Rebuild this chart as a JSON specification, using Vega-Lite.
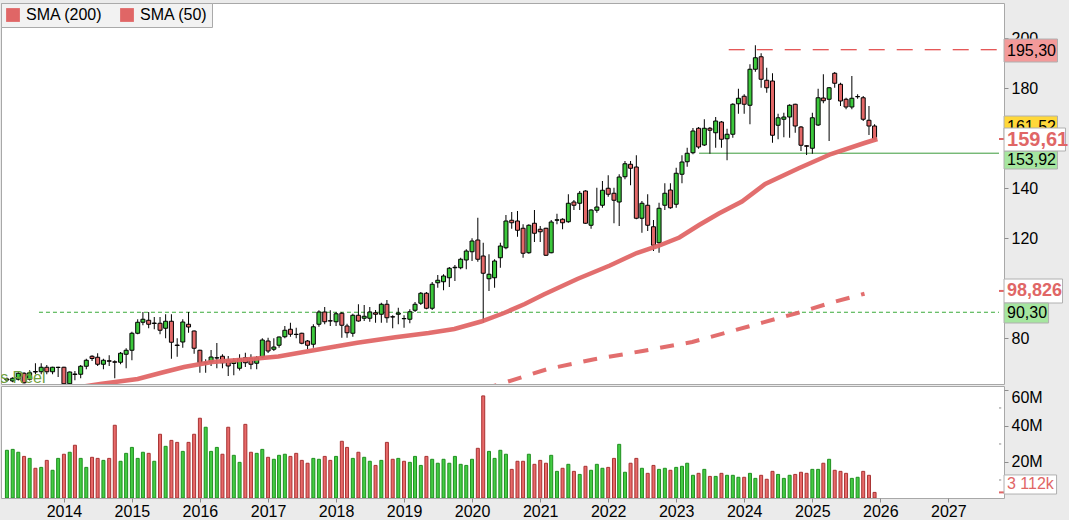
{
"$schema":"https://vega.github.io/schema/vega-lite/v6.json",
"background":"#ebebeb",
"padding":{"left":0,"top":2,"right":0,"bottom":0},
"spacing":0,
"config":{"view":{"fill":"white","stroke":"#a8a8a8","strokeWidth":1},"font":"Liberation Sans","axis":{"labelFont":"Liberation Sans","labelFontSize":16,"labelColor":"#000000","tickColor":"#8c8c8c","tickSize":4,"domain":false,"grid":false,"labelPadding":3}},
"datasets":{
"k":[
{"d":"2013-03-01","o":63.2,"h":64.2,"l":62.5,"c":63.6,"v":26.5},
{"d":"2013-04-01","o":62.8,"h":64.3,"l":62.3,"c":63.9,"v":27.0},
{"d":"2013-05-01","o":63.5,"h":66.3,"l":63.0,"c":65.9,"v":25.4},
{"d":"2013-06-01","o":65.9,"h":66.3,"l":61.8,"c":62.1,"v":23.1},
{"d":"2013-07-01","o":63.5,"h":67.1,"l":63.0,"c":66.1,"v":22.0},
{"d":"2013-08-01","o":66.6,"h":69.9,"l":65.5,"c":66.4,"v":16.5},
{"d":"2013-09-01","o":66.5,"h":69.9,"l":65.5,"c":68.3,"v":17.0},
{"d":"2013-10-01","o":68.3,"h":69.2,"l":65.5,"c":66.5,"v":20.9},
{"d":"2013-11-01","o":66.5,"h":68.5,"l":65.5,"c":68.3,"v":15.4},
{"d":"2013-12-01","o":68.2,"h":68.5,"l":64.4,"c":68.3,"v":22.0},
{"d":"2014-01-01","o":68.3,"h":68.5,"l":61.6,"c":61.7,"v":24.3},
{"d":"2014-02-01","o":61.7,"h":66.6,"l":61.6,"c":66.4,"v":25.4},
{"d":"2014-03-01","o":65.6,"h":66.8,"l":63.1,"c":65.4,"v":29.3},
{"d":"2014-04-01","o":65.5,"h":69.2,"l":63.9,"c":68.7,"v":22.0},
{"d":"2014-05-01","o":68.7,"h":71.7,"l":67.5,"c":71.1,"v":17.0},
{"d":"2014-06-01","o":72.7,"h":73.1,"l":70.8,"c":71.8,"v":22.6},
{"d":"2014-07-01","o":72.3,"h":73.9,"l":68.8,"c":69.5,"v":22.0},
{"d":"2014-08-01","o":69.5,"h":71.7,"l":67.5,"c":71.1,"v":20.9},
{"d":"2014-09-01","o":70.9,"h":73.1,"l":68.8,"c":70.7,"v":22.0},
{"d":"2014-10-01","o":70.5,"h":71.1,"l":63.9,"c":70.3,"v":40.4},
{"d":"2014-11-01","o":70.3,"h":74.4,"l":69.5,"c":73.9,"v":20.4},
{"d":"2014-12-01","o":73.5,"h":75.9,"l":67.9,"c":75.1,"v":24.8},
{"d":"2015-01-01","o":75.1,"h":82.5,"l":71.1,"c":81.9,"v":28.1},
{"d":"2015-02-01","o":81.9,"h":87.5,"l":81.5,"c":86.3,"v":22.0},
{"d":"2015-03-01","o":86.3,"h":90.4,"l":85.1,"c":87.5,"v":25.4},
{"d":"2015-04-01","o":87.1,"h":90.4,"l":83.9,"c":85.5,"v":24.8},
{"d":"2015-05-01","o":85.8,"h":88.4,"l":83.5,"c":86.0,"v":20.4},
{"d":"2015-06-01","o":85.9,"h":88.4,"l":81.5,"c":83.1,"v":35.4},
{"d":"2015-07-01","o":83.9,"h":89.5,"l":79.9,"c":86.7,"v":28.7},
{"d":"2015-08-01","o":86.7,"h":89.5,"l":71.7,"c":78.3,"v":32.0},
{"d":"2015-09-01","o":77.2,"h":79.9,"l":72.5,"c":77.0,"v":30.9},
{"d":"2015-10-01","o":78.4,"h":87.5,"l":76.1,"c":86.4,"v":25.9},
{"d":"2015-11-01","o":85.5,"h":90.4,"l":82.1,"c":84.4,"v":30.9},
{"d":"2015-12-01","o":82.8,"h":83.0,"l":73.7,"c":75.9,"v":35.4},
{"d":"2016-01-01","o":75.1,"h":75.3,"l":66.1,"c":70.1,"v":44.3},
{"d":"2016-02-01","o":70.0,"h":71.5,"l":66.1,"c":70.2,"v":39.3},
{"d":"2016-03-01","o":70.4,"h":75.2,"l":68.8,"c":72.4,"v":25.9},
{"d":"2016-04-01","o":72.0,"h":78.0,"l":67.9,"c":72.1,"v":28.1},
{"d":"2016-05-01","o":72.7,"h":73.5,"l":67.9,"c":70.1,"v":24.3},
{"d":"2016-06-01","o":71.1,"h":72.8,"l":64.8,"c":68.8,"v":39.3},
{"d":"2016-07-01","o":69.8,"h":71.9,"l":65.1,"c":70.8,"v":23.7},
{"d":"2016-08-01","o":67.9,"h":73.5,"l":67.0,"c":71.7,"v":19.8},
{"d":"2016-09-01","o":72.1,"h":74.1,"l":68.4,"c":70.1,"v":40.9},
{"d":"2016-10-01","o":71.9,"h":73.5,"l":67.5,"c":69.5,"v":25.4},
{"d":"2016-11-01","o":69.9,"h":72.8,"l":67.5,"c":72.1,"v":24.8},
{"d":"2016-12-01","o":72.4,"h":79.9,"l":71.9,"c":79.2,"v":27.0},
{"d":"2017-01-01","o":78.8,"h":80.1,"l":74.0,"c":74.8,"v":22.6},
{"d":"2017-02-01","o":75.5,"h":79.9,"l":74.8,"c":76.4,"v":21.5},
{"d":"2017-03-01","o":77.1,"h":80.6,"l":76.1,"c":80.4,"v":23.7},
{"d":"2017-04-01","o":80.5,"h":84.8,"l":79.9,"c":83.1,"v":24.3},
{"d":"2017-05-01","o":83.5,"h":86.1,"l":80.5,"c":81.5,"v":23.1},
{"d":"2017-06-01","o":81.5,"h":84.1,"l":79.9,"c":81.4,"v":24.8},
{"d":"2017-07-01","o":81.9,"h":82.1,"l":77.5,"c":77.9,"v":20.9},
{"d":"2017-08-01","o":78.8,"h":79.2,"l":75.5,"c":77.1,"v":19.3},
{"d":"2017-09-01","o":77.5,"h":85.5,"l":76.1,"c":84.5,"v":22.0},
{"d":"2017-10-01","o":85.5,"h":91.1,"l":84.5,"c":90.4,"v":21.5},
{"d":"2017-11-01","o":90.4,"h":92.4,"l":85.5,"c":86.5,"v":23.1},
{"d":"2017-12-01","o":86.9,"h":91.1,"l":84.8,"c":86.8,"v":20.9},
{"d":"2018-01-01","o":86.5,"h":90.4,"l":84.8,"c":89.7,"v":23.1},
{"d":"2018-02-01","o":89.9,"h":90.4,"l":80.1,"c":85.1,"v":31.5},
{"d":"2018-03-01","o":84.8,"h":85.7,"l":80.1,"c":82.1,"v":28.1},
{"d":"2018-04-01","o":81.9,"h":89.7,"l":80.5,"c":89.1,"v":22.0},
{"d":"2018-05-01","o":89.1,"h":93.5,"l":86.5,"c":86.8,"v":25.4},
{"d":"2018-06-01","o":87.9,"h":93.2,"l":86.8,"c":88.7,"v":22.6},
{"d":"2018-07-01","o":87.9,"h":92.4,"l":86.5,"c":90.4,"v":20.4},
{"d":"2018-08-01","o":90.1,"h":91.2,"l":86.1,"c":89.5,"v":18.1},
{"d":"2018-09-01","o":89.5,"h":94.1,"l":86.1,"c":93.5,"v":20.9},
{"d":"2018-10-01","o":93.5,"h":95.2,"l":86.1,"c":88.1,"v":30.9},
{"d":"2018-11-01","o":88.5,"h":89.1,"l":83.9,"c":88.4,"v":21.5},
{"d":"2018-12-01","o":89.5,"h":92.1,"l":85.5,"c":90.0,"v":22.0},
{"d":"2019-01-01","o":87.8,"h":89.1,"l":84.1,"c":87.7,"v":20.4},
{"d":"2019-02-01","o":87.5,"h":91.5,"l":85.9,"c":90.5,"v":19.8},
{"d":"2019-03-01","o":91.1,"h":94.4,"l":90.4,"c":93.5,"v":23.1},
{"d":"2019-04-01","o":93.9,"h":98.4,"l":93.2,"c":97.9,"v":18.1},
{"d":"2019-05-01","o":97.9,"h":98.4,"l":91.5,"c":91.9,"v":23.1},
{"d":"2019-06-01","o":91.9,"h":102.4,"l":91.2,"c":101.5,"v":21.5},
{"d":"2019-07-01","o":102.1,"h":105.2,"l":100.1,"c":103.1,"v":19.3},
{"d":"2019-08-01","o":102.5,"h":105.5,"l":99.1,"c":104.8,"v":21.5},
{"d":"2019-09-01","o":104.1,"h":108.4,"l":100.4,"c":107.9,"v":19.3},
{"d":"2019-10-01","o":108.1,"h":109.2,"l":102.8,"c":108.3,"v":23.1},
{"d":"2019-11-01","o":108.1,"h":112.1,"l":107.5,"c":111.5,"v":18.7},
{"d":"2019-12-01","o":111.2,"h":115.5,"l":107.5,"c":114.8,"v":18.1},
{"d":"2020-01-01","o":114.5,"h":119.9,"l":110.8,"c":118.8,"v":21.5},
{"d":"2020-02-01","o":119.2,"h":128.1,"l":110.5,"c":111.5,"v":27.6},
{"d":"2020-03-01","o":112.8,"h":118.1,"l":86.1,"c":105.9,"v":56.7},
{"d":"2020-04-01","o":103.7,"h":113.5,"l":98.8,"c":105.5,"v":25.9},
{"d":"2020-05-01","o":104.1,"h":111.5,"l":100.1,"c":110.8,"v":22.0},
{"d":"2020-06-01","o":112.1,"h":118.1,"l":108.1,"c":116.8,"v":26.5},
{"d":"2020-07-01","o":116.1,"h":129.2,"l":115.5,"c":126.8,"v":24.3},
{"d":"2020-08-01","o":127.1,"h":130.4,"l":123.7,"c":126.1,"v":15.9},
{"d":"2020-09-01","o":126.8,"h":130.8,"l":120.5,"c":123.1,"v":20.4},
{"d":"2020-10-01","o":123.9,"h":125.5,"l":112.1,"c":113.9,"v":20.4},
{"d":"2020-11-01","o":114.1,"h":125.5,"l":113.7,"c":125.1,"v":24.3},
{"d":"2020-12-01","o":125.9,"h":131.2,"l":118.4,"c":121.9,"v":18.7},
{"d":"2021-01-01","o":123.5,"h":124.8,"l":118.4,"c":122.5,"v":20.9},
{"d":"2021-02-01","o":123.9,"h":124.1,"l":112.8,"c":113.1,"v":19.3},
{"d":"2021-03-01","o":114.1,"h":127.2,"l":113.9,"c":126.4,"v":23.7},
{"d":"2021-04-01","o":127.1,"h":129.7,"l":125.5,"c":127.3,"v":14.8},
{"d":"2021-05-01","o":127.5,"h":127.9,"l":123.5,"c":126.1,"v":16.5},
{"d":"2021-06-01","o":126.5,"h":137.5,"l":126.1,"c":133.9,"v":18.7},
{"d":"2021-07-01","o":134.4,"h":135.2,"l":131.2,"c":133.1,"v":14.8},
{"d":"2021-08-01","o":133.9,"h":138.8,"l":131.2,"c":137.9,"v":13.1},
{"d":"2021-09-01","o":138.8,"h":139.1,"l":125.7,"c":125.9,"v":17.6},
{"d":"2021-10-01","o":125.1,"h":131.5,"l":123.7,"c":131.2,"v":15.4},
{"d":"2021-11-01","o":131.1,"h":140.1,"l":130.1,"c":132.4,"v":18.7},
{"d":"2021-12-01","o":133.1,"h":142.8,"l":132.1,"c":139.1,"v":16.5},
{"d":"2022-01-01","o":139.9,"h":145.1,"l":136.5,"c":137.5,"v":17.0},
{"d":"2022-02-01","o":137.9,"h":140.1,"l":125.9,"c":135.1,"v":22.0},
{"d":"2022-03-01","o":134.4,"h":145.5,"l":124.8,"c":144.4,"v":29.8},
{"d":"2022-04-01","o":144.5,"h":150.8,"l":143.5,"c":149.7,"v":14.3},
{"d":"2022-05-01","o":149.5,"h":150.8,"l":141.1,"c":147.9,"v":19.3},
{"d":"2022-06-01","o":148.4,"h":153.1,"l":127.5,"c":127.9,"v":22.0},
{"d":"2022-07-01","o":127.9,"h":134.8,"l":122.1,"c":133.9,"v":16.5},
{"d":"2022-08-01","o":133.1,"h":137.5,"l":122.8,"c":125.1,"v":13.7},
{"d":"2022-09-01","o":124.5,"h":127.2,"l":114.8,"c":117.1,"v":18.1},
{"d":"2022-10-01","o":118.1,"h":134.1,"l":114.1,"c":131.9,"v":15.9},
{"d":"2022-11-01","o":133.1,"h":141.9,"l":131.2,"c":137.9,"v":16.5},
{"d":"2022-12-01","o":139.2,"h":141.9,"l":131.7,"c":132.1,"v":15.4},
{"d":"2023-01-01","o":133.5,"h":148.1,"l":132.1,"c":145.9,"v":17.0},
{"d":"2023-02-01","o":145.5,"h":153.1,"l":141.9,"c":150.4,"v":17.6},
{"d":"2023-03-01","o":150.5,"h":156.1,"l":148.5,"c":153.9,"v":19.3},
{"d":"2023-04-01","o":154.1,"h":164.0,"l":153.5,"c":162.8,"v":12.6},
{"d":"2023-05-01","o":163.9,"h":164.4,"l":155.7,"c":156.4,"v":13.7},
{"d":"2023-06-01","o":157.2,"h":167.5,"l":156.8,"c":163.9,"v":15.9},
{"d":"2023-07-01","o":163.9,"h":164.4,"l":153.7,"c":163.1,"v":12.0},
{"d":"2023-08-01","o":162.1,"h":168.4,"l":156.1,"c":166.8,"v":12.0},
{"d":"2023-09-01","o":166.4,"h":166.8,"l":156.1,"c":159.5,"v":13.7},
{"d":"2023-10-01","o":159.7,"h":163.7,"l":151.1,"c":161.5,"v":12.6},
{"d":"2023-11-01","o":161.5,"h":173.9,"l":160.1,"c":173.5,"v":12.6},
{"d":"2023-12-01","o":173.7,"h":179.7,"l":169.7,"c":175.9,"v":11.5},
{"d":"2024-01-01","o":176.7,"h":177.5,"l":169.7,"c":173.5,"v":11.5},
{"d":"2024-02-01","o":173.1,"h":189.5,"l":165.5,"c":187.5,"v":13.7},
{"d":"2024-03-01","o":187.5,"h":197.1,"l":186.5,"c":192.1,"v":10.9},
{"d":"2024-04-01","o":192.5,"h":193.9,"l":180.1,"c":183.5,"v":12.6},
{"d":"2024-05-01","o":183.1,"h":188.1,"l":178.1,"c":180.1,"v":10.4},
{"d":"2024-06-01","o":182.8,"h":185.9,"l":158.1,"c":161.1,"v":14.8},
{"d":"2024-07-01","o":165.1,"h":169.7,"l":159.5,"c":168.1,"v":13.1},
{"d":"2024-08-01","o":167.5,"h":170.1,"l":160.3,"c":168.4,"v":10.9},
{"d":"2024-09-01","o":168.4,"h":173.5,"l":160.1,"c":173.1,"v":12.6},
{"d":"2024-10-01","o":173.5,"h":173.7,"l":162.1,"c":164.8,"v":13.1},
{"d":"2024-11-01","o":164.4,"h":164.8,"l":154.8,"c":157.1,"v":14.3},
{"d":"2024-12-01","o":156.9,"h":157.1,"l":153.2,"c":156.7,"v":13.7},
{"d":"2025-01-01","o":155.9,"h":170.1,"l":153.7,"c":168.1,"v":15.9},
{"d":"2025-02-01","o":165.2,"h":179.7,"l":164.8,"c":176.1,"v":15.9},
{"d":"2025-03-01","o":176.0,"h":185.5,"l":173.9,"c":174.9,"v":19.3},
{"d":"2025-04-01","o":175.5,"h":180.4,"l":158.8,"c":180.1,"v":21.5},
{"d":"2025-05-01","o":185.9,"h":186.4,"l":180.1,"c":181.9,"v":15.4},
{"d":"2025-06-01","o":181.5,"h":182.1,"l":172.8,"c":174.8,"v":14.8},
{"d":"2025-07-01","o":175.5,"h":176.1,"l":171.5,"c":172.4,"v":13.7},
{"d":"2025-08-01","o":172.4,"h":184.8,"l":171.5,"c":175.9,"v":10.9},
{"d":"2025-09-01","o":176.5,"h":177.5,"l":175.7,"c":176.6,"v":11.5},
{"d":"2025-10-01","o":176.1,"h":176.8,"l":166.8,"c":167.5,"v":14.8},
{"d":"2025-11-01","o":167.1,"h":172.8,"l":161.2,"c":164.8,"v":12.6},
{"d":"2025-12-01","o":164.8,"h":165.5,"l":159.3,"c":159.61,"v":3.112}
],
"sma":[
{"name":"SMA (50)","d":"2014-01-15","p":59.6},
{"name":"SMA (50)","d":"2014-07-24","p":61.7},
{"name":"SMA (50)","d":"2015-02-01","p":63.6},
{"name":"SMA (50)","d":"2015-06-08","p":66.1},
{"name":"SMA (50)","d":"2015-10-08","p":68.4},
{"name":"SMA (50)","d":"2016-03-05","p":70.4},
{"name":"SMA (50)","d":"2016-09-02","p":71.4},
{"name":"SMA (50)","d":"2017-02-25","p":72.6},
{"name":"SMA (50)","d":"2017-08-19","p":74.9},
{"name":"SMA (50)","d":"2018-04-25","p":78.1},
{"name":"SMA (50)","d":"2018-11-15","p":80.3},
{"name":"SMA (50)","d":"2019-05-13","p":82.0},
{"name":"SMA (50)","d":"2019-09-28","p":83.6},
{"name":"SMA (50)","d":"2020-02-19","p":86.6},
{"name":"SMA (50)","d":"2020-06-21","p":90.0},
{"name":"SMA (50)","d":"2020-10-10","p":93.6},
{"name":"SMA (50)","d":"2021-01-20","p":97.4},
{"name":"SMA (50)","d":"2021-07-19","p":103.6},
{"name":"SMA (50)","d":"2022-01-10","p":109.0},
{"name":"SMA (50)","d":"2022-06-03","p":114.0},
{"name":"SMA (50)","d":"2022-10-03","p":117.0},
{"name":"SMA (50)","d":"2023-01-18","p":120.2},
{"name":"SMA (50)","d":"2023-05-04","p":125.2},
{"name":"SMA (50)","d":"2023-08-18","p":129.8},
{"name":"SMA (50)","d":"2023-12-20","p":134.6},
{"name":"SMA (50)","d":"2024-04-23","p":141.6},
{"name":"SMA (50)","d":"2024-10-17","p":147.8},
{"name":"SMA (50)","d":"2025-04-11","p":153.6},
{"name":"SMA (50)","d":"2025-10-08","p":158.0},
{"name":"SMA (50)","d":"2025-12-16","p":159.6},
{"name":"SMA (200)","d":"2020-03-01","p":59.5},
{"name":"SMA (200)","d":"2020-06-21","p":62.1},
{"name":"SMA (200)","d":"2021-02-10","p":67.6},
{"name":"SMA (200)","d":"2021-10-12","p":71.4},
{"name":"SMA (200)","d":"2022-07-05","p":74.8},
{"name":"SMA (200)","d":"2023-03-28","p":78.4},
{"name":"SMA (200)","d":"2024-01-24","p":84.6},
{"name":"SMA (200)","d":"2024-10-17","p":90.1},
{"name":"SMA (200)","d":"2025-04-11","p":94.1},
{"name":"SMA (200)","d":"2025-10-08","p":97.7}
],
"hl":[
{"k":"r","d1":"2023-10-10","d2":"2027-09-30","p":195.3},
{"k":"g","d1":"2023-05-04","d2":"2027-09-30","p":153.92},
{"k":"gd","d1":"2013-08-20","d2":"2027-09-30","p":90.3}
],
"src":[{"d":"2013-09-24","p":64.0,"label":"Temps Réel"}],
"ann":[
{"id":"A","x1":"2027-10-27","x2":"2028-08-09","y1":199.6,"y2":190.4,"fill":"#f39a9a","label":"195,30","ty":195.0,"col":"#000000","sz":16,"w":"normal","tx":"2027-11-12"},
{"id":"B","x1":"2027-10-27","x2":"2028-08-09","y1":168.8,"y2":160.0,"fill":"#ffd83a","label":"161,52","ty":164.4,"col":"#000000","sz":16,"w":"normal","tx":"2027-11-12"},
{"id":"C","x1":"2027-10-27","x2":"2028-09-21","y1":164.0,"y2":154.8,"fill":"#ffffff","label":"159,61","ty":159.4,"col":"#e06666","sz":20,"w":"bold","tx":"2027-11-12"},
{"id":"D","x1":"2027-10-27","x2":"2028-08-09","y1":154.8,"y2":147.6,"fill":"#a6e6a0","label":"153,92","ty":151.2,"col":"#000000","sz":16,"w":"normal","tx":"2027-11-12"},
{"id":"E","x1":"2027-10-27","x2":"2028-09-05","y1":103.6,"y2":94.0,"fill":"#ffffff","label":"98,826","ty":98.8,"col":"#e06666","sz":18,"w":"bold","tx":"2027-11-12"},
{"id":"F","x1":"2027-10-27","x2":"2028-06-22","y1":94.0,"y2":86.0,"fill":"#a6e6a0","label":"90,30","ty":90.0,"col":"#000000","sz":16,"w":"normal","tx":"2027-11-12"}
],
"tk":[{"x1":"2027-09-30","x2":"2027-10-27","y":159.61},{"x1":"2027-09-30","x2":"2027-10-27","y":98.826}],
"vann":[{"x1":"2027-10-27","x2":"2028-08-04","y1":12.8,"y2":2.2,"label":"3 112k","ty":7.5,"tx":"2027-11-12","tk1":"2027-09-30","tk2":"2027-10-27","tv":3.112}],
"vtk":[{"x1":"2027-09-30","x2":"2027-10-12","y":10},{"x1":"2027-09-30","x2":"2027-10-12","y":30},{"x1":"2027-09-30","x2":"2027-10-12","y":50}]
},
"vconcat":[
{"width":1003,"height":381,
"layer":[
{"data":{"name":"hl"},"transform":[{"filter":"datum.k=='r'"}],"mark":{"type":"rule","color":"#dd2020","strokeDash":[16,12],"strokeWidth":1},
 "encoding":{"x":{"field":"d1","type":"temporal","scale":{"type":"utc","domain":["2013-02-24","2027-09-30"]},"axis":null},"x2":{"field":"d2"},
 "y":{"field":"p","type":"quantitative","title":null,"scale":{"domain":[61.6,214],"nice":false,"zero":false},
  "axis":{"orient":"right","title":null,"values":[80,100,120,140,160,180,200],"labelExpr":"datum.value==100||datum.value==160?'':datum.label"}}}},
{"data":{"name":"hl"},"transform":[{"filter":"datum.k=='g'"}],"mark":{"type":"rule","color":"#3a9a3a","strokeWidth":1},
 "encoding":{"x":{"field":"d1","type":"temporal"},"x2":{"field":"d2"},"y":{"field":"p","type":"quantitative","title":null}}},
{"data":{"name":"hl"},"transform":[{"filter":"datum.k=='gd'"}],"mark":{"type":"rule","color":"#3aaa3a","strokeDash":[4,3],"strokeWidth":1},
 "encoding":{"x":{"field":"d1","type":"temporal"},"x2":{"field":"d2"},"y":{"field":"p","type":"quantitative","title":null}}},
{"data":{"name":"k"},"mark":{"type":"rule","color":"#000000","strokeWidth":1,"clip":true},
 "encoding":{"x":{"field":"d","type":"temporal"},"y":{"field":"l","type":"quantitative","title":null},"y2":{"field":"h"}}},
{"data":{"name":"k"},"mark":{"type":"bar","size":4,"stroke":"#000000","strokeWidth":1,"clip":true},
 "encoding":{"x":{"field":"d","type":"temporal"},"y":{"field":"o","type":"quantitative","title":null},"y2":{"field":"c"},
 "fill":{"condition":{"test":"datum.c>=datum.o","value":"#3cc83c"},"value":"#e36868"}}},
{"data":{"name":"src"},"mark":{"type":"text","align":"right","baseline":"middle","font":"Liberation Sans","fontSize":16,"color":"#6f9e3c","clip":true},
 "encoding":{"x":{"field":"d","type":"temporal"},"y":{"field":"p","type":"quantitative","title":null},"text":{"field":"label"}}},
{"data":{"name":"sma"},"transform":[{"filter":"datum.name=='SMA (200)'"}],"mark":{"type":"line","strokeWidth":4,"clip":true,"color":"#e06666","strokeDash":[14,12],"opacity":0.95},
 "encoding":{"x":{"field":"d","type":"temporal"},"y":{"field":"p","type":"quantitative","title":null}}},
{"data":{"name":"sma"},"transform":[{"filter":"datum.name=='SMA (50)'"}],"mark":{"type":"line","strokeWidth":4.5,"clip":true,"color":"#e06666","opacity":0.95},
 "encoding":{"x":{"field":"d","type":"temporal"},"y":{"field":"p","type":"quantitative","title":null}}},
{"data":{"name":"sma"},"transform":[{"filter":"false"}],"mark":{"type":"square","filled":true,"size":190,"opacity":1},
 "encoding":{"x":{"field":"d","type":"temporal"},"y":{"field":"p","type":"quantitative","title":null},
 "color":{"field":"name","type":"nominal","scale":{"domain":["SMA (200)","SMA (50)"],"range":["#e06666","#e06666"]},
   "legend":{"orient":"top-left","direction":"horizontal","title":null,"offset":0,"padding":4,"fillColor":"#f2f2f2","strokeColor":"#aaaaaa","labelFontSize":16,"labelColor":"#000000","labelFont":"Liberation Sans","symbolType":"square","symbolSize":190,"symbolOpacity":1,"columnPadding":16,"labelOffset":5}}}},
{"data":{"name":"tk"},"mark":{"type":"rule","color":"#e06666","strokeWidth":2},
 "encoding":{"x":{"field":"x1","type":"temporal"},"x2":{"field":"x2"},"y":{"field":"y","type":"quantitative","title":null}}},
{"data":{"name":"ann"},"transform":[{"filter":"datum.id!='C'"}],"mark":{"type":"rect","stroke":"#b0b0b0","strokeWidth":1},
 "encoding":{"x":{"field":"x1","type":"temporal"},"x2":{"field":"x2"},"y":{"field":"y1","type":"quantitative","title":null},"y2":{"field":"y2"},"fill":{"field":"fill","type":"nominal","scale":null}}},
{"data":{"name":"ann"},"transform":[{"filter":"datum.id=='B'"}],"mark":{"type":"text","align":"left","baseline":"middle","font":"Liberation Sans"},
 "encoding":{"x":{"field":"tx","type":"temporal"},"y":{"field":"ty","type":"quantitative","title":null},"text":{"field":"label"},"color":{"field":"col","type":"nominal","scale":null},"size":{"field":"sz","type":"quantitative","scale":null}}},
{"data":{"name":"ann"},"transform":[{"filter":"datum.id=='C'"}],"mark":{"type":"rect","stroke":"#b0b0b0","strokeWidth":1},
 "encoding":{"x":{"field":"x1","type":"temporal"},"x2":{"field":"x2"},"y":{"field":"y1","type":"quantitative","title":null},"y2":{"field":"y2"},"fill":{"field":"fill","type":"nominal","scale":null}}},
{"data":{"name":"ann"},"transform":[{"filter":"datum.w=='normal' && datum.id!='B'"}],"mark":{"type":"text","align":"left","baseline":"middle","font":"Liberation Sans"},
 "encoding":{"x":{"field":"tx","type":"temporal"},"y":{"field":"ty","type":"quantitative","title":null},"text":{"field":"label"},"color":{"field":"col","type":"nominal","scale":null},"size":{"field":"sz","type":"quantitative","scale":null}}},
{"data":{"name":"ann"},"transform":[{"filter":"datum.w=='bold'"}],"mark":{"type":"text","align":"left","baseline":"middle","font":"Liberation Sans","fontWeight":"bold"},
 "encoding":{"x":{"field":"tx","type":"temporal"},"y":{"field":"ty","type":"quantitative","title":null},"text":{"field":"label"},"color":{"field":"col","type":"nominal","scale":null},"size":{"field":"sz","type":"quantitative","scale":null}}}
]},
{"width":1003,"height":112,
"layer":[
{"data":{"name":"k"},"mark":{"type":"bar","size":3,"strokeWidth":1,"clip":true},
 "encoding":{"x":{"field":"d","type":"temporal","title":null,"scale":{"type":"utc","domain":["2013-02-24","2027-09-30"]},
   "axis":{"orient":"bottom","title":null,"format":"%Y","labelFlush":false,"labelOverlap":false,"tickSize":4,"labelPadding":1,
   "values":[{"year":2014,"month":1,"date":1,"utc":true},{"year":2015,"month":1,"date":1,"utc":true},{"year":2016,"month":1,"date":1,"utc":true},{"year":2017,"month":1,"date":1,"utc":true},{"year":2018,"month":1,"date":1,"utc":true},{"year":2019,"month":1,"date":1,"utc":true},{"year":2020,"month":1,"date":1,"utc":true},{"year":2021,"month":1,"date":1,"utc":true},{"year":2022,"month":1,"date":1,"utc":true},{"year":2023,"month":1,"date":1,"utc":true},{"year":2024,"month":1,"date":1,"utc":true},{"year":2025,"month":1,"date":1,"utc":true},{"year":2026,"month":1,"date":1,"utc":true},{"year":2027,"month":1,"date":1,"utc":true}]}},
 "y":{"field":"v","type":"quantitative","title":null,"scale":{"domain":[0,62.2],"nice":false},
   "axis":{"orient":"right","title":null,"values":[20,40,60],"labelOverlap":false,"labelFlush":false,
     "labelExpr":"datum.value+'M'",
     "labelBaseline":{"condition":{"test":"datum.value==60","value":"top"},"value":"middle"}}},
 "fill":{"condition":{"test":"datum.c>=datum.o","value":"#44cc44"},"value":"#e86a6a"},
 "stroke":{"condition":{"test":"datum.c>=datum.o","value":"#1f8f1f"},"value":"#a83232"}}},
{"data":{"name":"vtk"},"mark":{"type":"rule","color":"#8c8c8c","strokeWidth":1},
 "encoding":{"x":{"field":"x1","type":"temporal"},"x2":{"field":"x2"},"y":{"field":"y","type":"quantitative","title":null}}},
{"data":{"name":"vann"},"mark":{"type":"rule","color":"#e06666","strokeWidth":2},
 "encoding":{"x":{"field":"tk1","type":"temporal"},"x2":{"field":"tk2"},"y":{"field":"tv","type":"quantitative","title":null}}},
{"data":{"name":"vann"},"mark":{"type":"rect","fill":"#ffffff","stroke":"#b0b0b0","strokeWidth":1},
 "encoding":{"x":{"field":"x1","type":"temporal"},"x2":{"field":"x2"},"y":{"field":"y1","type":"quantitative","title":null},"y2":{"field":"y2"}}},
{"data":{"name":"vann"},"mark":{"type":"text","align":"left","baseline":"middle","font":"Liberation Sans","fontSize":16,"color":"#e06666"},
 "encoding":{"x":{"field":"tx","type":"temporal"},"y":{"field":"ty","type":"quantitative","title":null},"text":{"field":"label"}}}
]}
]
}
